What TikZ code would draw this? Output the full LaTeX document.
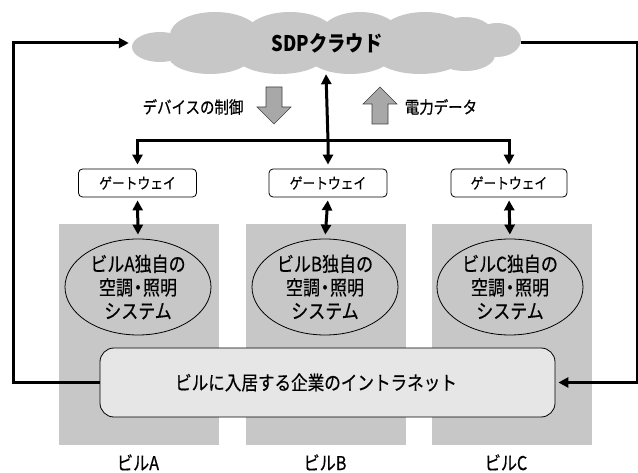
\documentclass[tikz,border=0pt]{standalone}
\usepackage{fontspec}
\newfontfamily\jp[FakeStretch=0.85, UprightFeatures={FakeBold=0.5}]{Noto Sans CJK JP}
\usetikzlibrary{arrows.meta,shapes.geometric}
\definecolor{cloudgray}{HTML}{C6C7C6}
\definecolor{bldgray}{HTML}{C6C7C6}
\definecolor{intragray}{HTML}{E6E6E6}
\definecolor{blkgray}{HTML}{A8A8A8}
\newcommand{\ndot}{\kern-3.5pt・\kern-3.5pt}
\tikzset{
  bk/.style={line width=3pt},
  tip/.style={-{Triangle[length=10pt,width=10pt]}},
  dtip/.style={{Triangle[length=10pt,width=10pt]}-{Triangle[length=10pt,width=10pt]}},
  gw/.style={draw, line width=0.8pt, rounded corners=4pt, fill=white, minimum width=118pt, minimum height=28pt, inner sep=0pt, font=\jp\fontsize{15}{17}\selectfont},
  sys/.style={ellipse, draw, line width=0.8pt, fill=bldgray, minimum width=146pt, minimum height=96pt, inner sep=0pt, align=center, font=\jp\fontsize{20}{23.5}\selectfont},
  bld/.style={fill=bldgray, minimum width=160pt, minimum height=221pt, inner sep=0pt},
  blab/.style={anchor=base, inner sep=0pt, font=\jp\fontsize{19}{20}\selectfont},
  side/.style={font=\jp\fontsize{17}{19}\selectfont},
  blk/.style={draw=black!75, line width=0.6pt, fill=blkgray, line join=miter},
}
\begin{document}
\begin{tikzpicture}[x=1pt,y=-1pt]
\useasboundingbox (0,0) rectangle (638,473);
% buildings
\node[bld] (bA) at (139,334.5) {};
\node[bld] (bB) at (326,334.5) {};
\node[bld] (bC) at (512,334.5) {};
\node[blab] (lA) at (138,470) {ビルA};
\node[blab] (lB) at (325,470) {ビルB};
\node[blab] (lC) at (506,470) {ビルC};
% cloud
\begin{scope}[fill=cloudgray]
\fill (160,47) ellipse [x radius=28, y radius=15];
\fill (497,40) ellipse [x radius=24, y radius=17];
\fill (215,35) ellipse [x radius=45, y radius=23];
\fill (290,35) ellipse [x radius=45, y radius=23];
\fill (360,35) ellipse [x radius=40, y radius=23];
\fill (425,35) ellipse [x radius=45, y radius=23];
\fill (465,37) ellipse [x radius=30, y radius=20];
\fill (210,55) ellipse [x radius=42, y radius=19];
\fill (280,55) ellipse [x radius=45, y radius=19];
\fill (350,55) ellipse [x radius=42, y radius=19];
\fill (420,55) ellipse [x radius=45, y radius=19];
\fill (465,55) ellipse [x radius=30, y radius=16];
\fill (330,44) ellipse [x radius=165, y radius=22];
\end{scope}
\node[minimum width=388pt, minimum height=60pt, inner sep=0pt, font=\jp\bfseries\fontsize{21.5}{23}\selectfont] (cloud) at (327,43) {SDPクラウド};
% gateways
\node[gw] (gA) at (137.5,183) {ゲートウェイ};
\node[gw] (gB) at (328,183) {ゲートウェイ};
\node[gw, minimum width=116pt] (gC) at (509,183) {ゲートウェイ};
% systems
\node[sys] (eA) at (138,287) {ビルA独自の\\空調\ndot 照明\\システム};
\node[sys] (eB) at (325,287) {ビルB独自の\\空調\ndot 照明\\システム};
\node[sys] (eC) at (510,287) {ビルC独自の\\空調\ndot 照明\\システム};
% intranet
\node[draw, line width=0.8pt, rounded corners=14pt, fill=intragray, minimum width=455pt, minimum height=69pt, inner sep=0pt] (intra) at (327.5,382.5) {};
\node[font=\jp\fontsize{19.5}{21}\selectfont, inner sep=0pt] (intratext) at (316,382.5) {ビルに入居する企業のイントラネット};
% side labels
\node[side] (ctl) at (193,107) {デバイスの制御};
\node[side] (pwr) at (441,107) {電力データ};
% block arrows
\draw[blk] (266,87) -- (282,87) -- (282,107) -- (291,107) -- (274,124) -- (257,107) -- (266,107) -- cycle;
\draw[blk] (372,124) -- (388,124) -- (388,104) -- (397,104) -- (380,87) -- (363,104) -- (372,104) -- cycle;
% connectors
\coordinate (bus) at (326,141);
\draw[bk, dtip, shorten <=1pt, shorten >=4pt] (cloud.south -| bus) -- (bus -| gB.north) -- (gB.north);
\draw[bk, tip, shorten >=4pt] (bus) -| (gA.north);
\draw[bk, tip, shorten >=4pt] (bus) -| (gC.north);
\draw[bk, dtip, shorten <=3pt, shorten >=4pt] (gA.south) -- (eA.north);
\draw[bk, dtip, shorten <=3pt, shorten >=4pt] (gB.south) -- (eB.north);
\draw[bk, dtip, shorten <=3pt, shorten >=4pt] (gC.south) -- (eC.north);
\coordinate (L) at (13,0);
\coordinate (R) at (637,0);
\draw[bk, tip, shorten >=4pt] (intra.west) -- (intra.west -| L) -- (L |- cloud.west) -- (cloud.west);
\draw[bk, tip, shorten >=3pt] (cloud.east) -- (cloud.east -| R) -- (R |- intra.east) -- (intra.east);
\end{tikzpicture}
\end{document}
